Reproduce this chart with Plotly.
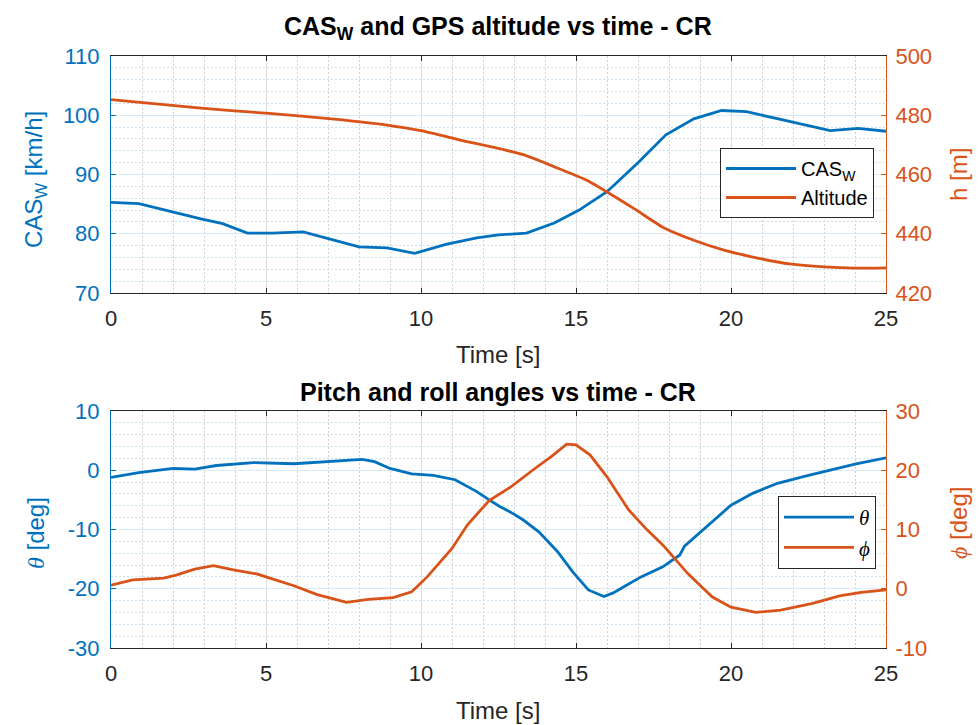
import plotly.graph_objects as go

# ---------------- data ----------------
# Top panel: calibrated airspeed (wind) and GPS altitude
t_cas = [0, 0.9, 2.9, 3.6, 4.4, 5.2, 6.2, 7.1, 8.0, 8.9, 9.8, 10.8, 11.8, 12.5,
         13.4, 14.3, 15.1, 16.0, 17.0, 17.9, 18.8, 19.7, 20.5, 21.6, 23.2, 24.1, 25.0]
cas_w = [85.3, 85.1, 82.5, 81.7, 80.1, 80.1, 80.3, 79.0, 77.8, 77.6, 76.7, 78.2, 79.3, 79.8,
         80.1, 81.8, 84.0, 87.1, 92.0, 96.7, 99.4, 100.8, 100.6, 99.3, 97.4, 97.8, 97.3]

t_alt = [0, 2.9, 5.1, 7.2, 8.9, 10.0, 11.4, 12.2, 13.3, 14.4, 15.3, 16.0, 16.9,
         17.8, 18.8, 19.8, 20.9, 21.9, 23.0, 24.0, 25.0]
altitude = [485.3, 482.4, 480.6, 478.7, 476.7, 474.8, 471.3, 469.5, 466.7, 462.2, 458.3, 454.1, 448.3,
            442.2, 437.8, 434.4, 431.7, 429.8, 428.8, 428.4, 428.5]

# Bottom panel: pitch (theta) and roll (phi) angles
t_theta = [0, 0.9, 2.0, 2.7, 3.4, 4.6, 5.9, 7.2, 8.1, 8.5, 9.0, 9.7, 10.4, 11.1, 11.8,
           12.2, 12.5, 13.0, 13.3, 13.8, 14.4, 14.9, 15.4, 15.9, 16.2, 16.6, 17.1, 17.8,
           18.35, 18.5, 18.7, 19.2, 19.6, 20.0, 20.7, 21.5, 22.4, 23.2, 24.0, 25.0]
theta = [-1.2, -0.4, 0.3, 0.2, 0.8, 1.3, 1.1, 1.6, 1.85, 1.45, 0.3, -0.6, -0.85, -1.6, -3.6,
         -5.0, -6.0, -7.4, -8.4, -10.4, -13.7, -17.2, -20.2, -21.3, -20.7, -19.5, -18.0, -16.3,
         -14.3, -12.8, -11.9, -9.5, -7.8, -5.9, -3.9, -2.2, -1.0, 0.0, 1.05, 2.1]

t_phi = [0, 0.7, 1.7, 2.1, 2.7, 3.3, 3.95, 4.7, 5.0, 5.9, 6.65, 7.6, 8.3, 9.1, 9.7, 10.2,
         11.0, 11.5, 12.2, 12.9, 13.6, 14.2, 14.7, 15.0, 15.45, 16.0, 16.7, 17.3, 17.8,
         18.35, 18.6, 19.0, 19.4, 20.0, 20.8, 21.6, 22.6, 23.1, 23.5, 24.2, 25.0]
phi = [0.6, 1.5, 1.8, 2.3, 3.3, 3.9, 3.2, 2.5, 2.0, 0.5, -1.0, -2.3, -1.8, -1.5, -0.5, 2.0,
       6.8, 10.8, 14.9, 17.2, 20.0, 22.3, 24.4, 24.3, 22.6, 18.9, 13.3, 9.9, 7.4,
       4.2, 2.6, 0.6, -1.4, -3.1, -4.0, -3.6, -2.5, -1.8, -1.2, -0.6, -0.2]

# tick values for each axis
time_ticks = [0, 5, 10, 15, 20, 25]
cas_ticks = [70, 80, 90, 100, 110]
alt_ticks = [420, 440, 460, 480, 500]
theta_ticks = [-30, -20, -10, 0, 10]
phi_ticks = [-10, 0, 10, 20, 30]

# ---------------- style ----------------
W, H = 979, 725
BLUE = "#0072BD"
ORANGE = "#D95319"
DARK = "#262626"
FONT = "Liberation Sans, Arial, Helvetica, sans-serif"
SERIF = "Liberation Serif, Times New Roman, serif"
TICK_SIZE = 22
LABEL_SIZE = 24
TITLE_SIZE = 25
LW = 2.8

X0, X1 = 111, 886             # plot area, pixels
TOP = (56, 293)
BOT = (411, 648)


def px_x(p):
    return p / W


def px_y(p):
    return 1 - p / H


def labels(vals):
    # plain hyphen for negative numbers
    return [str(v) for v in vals]


def greek(ch):
    # italic serif symbol, as in TeX-style labels
    return f'<span style="font-family:{SERIF}"><i>{ch}</i></span>'


xdom = [px_x(X0), px_x(X1)]

fig = go.Figure()

fig.add_trace(go.Scatter(x=t_cas, y=cas_w, name="CAS<sub>W</sub>", mode="lines",
                         line=dict(color=BLUE, width=LW), xaxis="x", yaxis="y",
                         legend="legend"))
fig.add_trace(go.Scatter(x=t_alt, y=altitude, name="Altitude", mode="lines",
                         line=dict(color=ORANGE, width=LW, shape="spline", smoothing=0.6),
                         xaxis="x", yaxis="y2", legend="legend"))
fig.add_trace(go.Scatter(x=t_theta, y=theta, name="<i>θ</i>", mode="lines",
                         line=dict(color=BLUE, width=LW), xaxis="x2", yaxis="y3",
                         legend="legend2"))
fig.add_trace(go.Scatter(x=t_phi, y=phi, name="<i>ϕ</i>", mode="lines",
                         line=dict(color=ORANGE, width=LW), xaxis="x2", yaxis="y4",
                         legend="legend2"))

GRID_X = "#DEDEDE"
GRID_Y = "#D9EAF5"
MINOR_X = "#D2D2D2"
MINOR_Y = "#C9E1F1"


def xaxis_cfg(anchor):
    return dict(
        domain=xdom, anchor=anchor, range=[0, 25],
        tickmode="array", tickvals=time_ticks, ticktext=labels(time_ticks),
        showline=True, linecolor=DARK, linewidth=1, mirror="ticks",
        ticks="inside", ticklen=5, tickcolor=DARK, ticklabelstandoff=6,
        tickfont=dict(family=FONT, size=TICK_SIZE, color=DARK),
        showgrid=True, gridcolor=GRID_X, gridwidth=1,
        minor=dict(dtick=1, tick0=0, showgrid=True, gridcolor=MINOR_X,
                   griddash="2px,2px", gridwidth=1),
        zeroline=False, automargin=False, fixedrange=True,
    )


def yaxis_cfg(dom, anchor, rng, vals, color, side, overlay=None):
    cfg = dict(
        domain=[px_y(dom[1]), px_y(dom[0])], anchor=anchor, range=rng,
        tickmode="array", tickvals=vals, ticktext=labels(vals),
        side=side, showline=True, linecolor=color, linewidth=1,
        ticks="inside", ticklen=5, tickcolor=color,
        ticklabelstandoff=6 if side == "left" else 4,
        tickfont=dict(family=FONT, size=TICK_SIZE, color=color),
        zeroline=False, automargin=False, fixedrange=True,
    )
    if overlay is None:
        step = (vals[1] - vals[0]) / 5
        cfg.update(showgrid=True, gridcolor=GRID_Y, gridwidth=1,
                   minor=dict(dtick=step, tick0=vals[0], showgrid=True, gridcolor=MINOR_Y,
                              griddash="2px,2px", gridwidth=1))
    else:
        cfg.update(overlaying=overlay, showgrid=False)
    return cfg


fig.update_layout(
    width=W, height=H, autosize=False,
    margin=dict(l=0, r=0, t=0, b=0),
    paper_bgcolor="white", plot_bgcolor="white",
    font=dict(family=FONT, color=DARK),
    xaxis=xaxis_cfg("y"),
    yaxis=yaxis_cfg(TOP, "x", [70, 110], cas_ticks, BLUE, "left"),
    yaxis2=yaxis_cfg(TOP, "x", [420, 500], alt_ticks, ORANGE, "right", overlay="y"),
    xaxis2=xaxis_cfg("y3"),
    yaxis3=yaxis_cfg(BOT, "x2", [-30, 10], theta_ticks, BLUE, "left"),
    yaxis4=yaxis_cfg(BOT, "x2", [-10, 30], phi_ticks, ORANGE, "right", overlay="y3"),
    legend=dict(x=px_x(720), y=px_y(148), xanchor="left", yanchor="top",
                bgcolor="white", bordercolor=DARK, borderwidth=1,
                font=dict(family=FONT, size=20, color="#000000"),
                itemwidth=70, tracegroupgap=0),
    legend2=dict(x=px_x(778), y=px_y(496), xanchor="left", yanchor="top",
                 bgcolor="white", bordercolor=DARK, borderwidth=1,
                 font=dict(family=SERIF, size=21, color="#000000"),
                 itemwidth=70, tracegroupgap=0),
    showlegend=True,
)

# titles and axis labels
xc = px_x((X0 + X1) / 2)
notes = [
    dict(text="<b>CAS<sub>W</sub> and GPS altitude vs time - CR</b>", x=xc, y=px_y(28),
         font=dict(size=TITLE_SIZE, color="#000000")),
    dict(text="<b>Pitch and roll angles vs time - CR</b>", x=xc, y=px_y(392),
         font=dict(size=TITLE_SIZE, color="#000000")),
    dict(text="Time [s]", x=xc, y=px_y(354), font=dict(size=LABEL_SIZE, color=DARK)),
    dict(text="Time [s]", x=xc, y=px_y(710), font=dict(size=LABEL_SIZE, color=DARK)),
    dict(text="CAS<sub>W</sub> [km/h]", x=px_x(35), y=px_y(180), textangle=-90,
         font=dict(size=LABEL_SIZE, color=BLUE)),
    dict(text="h [m]", x=px_x(958), y=px_y(175), textangle=-90,
         font=dict(size=LABEL_SIZE, color=ORANGE)),
    dict(text=greek("θ") + " [deg]", x=px_x(35), y=px_y(533), textangle=-90,
         font=dict(size=LABEL_SIZE, color=BLUE)),
    dict(text=greek("ϕ") + " [deg]", x=px_x(958), y=px_y(523), textangle=-90,
         font=dict(size=LABEL_SIZE, color=ORANGE)),
]
for n in notes:
    fig.add_annotation(xref="paper", yref="paper", showarrow=False,
                       xanchor="center", yanchor="middle", **n)

fig.write_html("out.html")
